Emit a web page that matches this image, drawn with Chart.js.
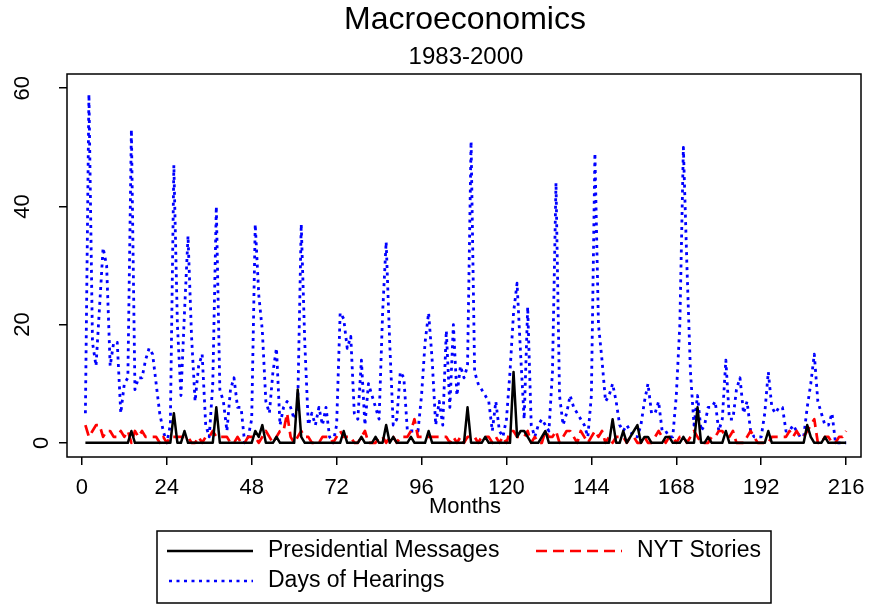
<!DOCTYPE html>
<html>
<head>
<meta charset="utf-8">
<title>Macroeconomics 1983-2000</title>
<script src="https://cdn.jsdelivr.net/npm/chart.js@4.4.1/dist/chart.umd.min.js"></script>
<style>
    html, body { margin: 0; padding: 0; background: #fff; }
    #chart { display: block; }
</style>
</head>
<body>
<canvas id="chart" width="869" height="608"></canvas>
<script>
// monthly counts, month 1 = Jan 1983
var presidential = [
    0, 0, 0, 0, 0, 0, 0, 0, 0, 0, 0, 0, 0, 2, 0, 0, 0, 0, 0, 0, 0, 0, 0, 0,
    0, 5, 0, 0, 2, 0, 0, 0, 0, 0, 0, 0, 0, 6, 0, 0, 0, 0, 0, 0, 0, 0, 0, 0,
    2, 1, 3, 0, 0, 0, 1, 0, 0, 0, 0, 0, 9, 1, 0, 0, 0, 0, 0, 0, 0, 0, 0, 0,
    0, 2, 0, 0, 0, 0, 1, 0, 0, 0, 1, 0, 0, 3, 0, 1, 0, 0, 0, 0, 1, 0, 0, 0,
    0, 2, 0, 0, 0, 0, 0, 0, 0, 0, 0, 0, 6, 0, 0, 0, 0, 1, 0, 0, 0, 0, 0, 0,
    0, 12, 1, 2, 2, 1, 0, 0, 0, 1, 2, 0, 0, 0, 0, 0, 0, 0, 0, 0, 0, 0, 0, 0,
    0, 0, 0, 0, 0, 4, 0, 0, 2, 0, 1, 2, 3, 0, 1, 1, 0, 0, 0, 0, 1, 1, 0, 0,
    0, 1, 0, 0, 0, 6, 0, 0, 1, 0, 0, 0, 0, 2, 0, 0, 0, 0, 0, 0, 0, 0, 0, 0,
    0, 2, 0, 0, 0, 0, 0, 0, 0, 0, 0, 0, 3, 1, 0, 0, 0, 1, 0, 0, 0, 0, 0, 0
];
var nytStories = [
    3, 1, 2, 3, 3, 1, 2, 2, 1, 1, 2, 1, 2, 0, 2, 1, 2, 1, 1, 1, 1, 0, 1, 0,
    1, 1, 1, 1, 1, 1, 0, 0, 1, 0, 1, 1, 2, 1, 1, 1, 1, 0, 0, 1, 0, 0, 1, 1,
    1, 0, 1, 2, 1, 0, 1, 2, 2, 5, 1, 0, 1, 2, 1, 1, 0, 0, 0, 1, 1, 1, 0, 1,
    2, 1, 1, 1, 0, 0, 1, 2, 0, 0, 0, 1, 1, 0, 1, 1, 0, 1, 1, 1, 2, 4, 1, 1,
    1, 1, 1, 1, 1, 1, 1, 0, 1, 0, 1, 0, 1, 1, 1, 0, 1, 1, 1, 0, 1, 0, 1, 0,
    2, 2, 1, 1, 1, 2, 0, 1, 0, 0, 2, 1, 1, 2, 0, 1, 2, 2, 1, 0, 2, 1, 0, 1,
    2, 1, 2, 0, 1, 0, 1, 1, 1, 0, 1, 1, 0, 0, 1, 0, 0, 1, 2, 1, 0, 1, 1, 0,
    1, 1, 0, 1, 2, 1, 0, 0, 0, 1, 1, 2, 2, 1, 1, 2, 0, 0, 0, 1, 2, 1, 0, 0,
    0, 0, 1, 1, 1, 1, 1, 2, 1, 2, 1, 1, 2, 3, 4, 0, 0, 1, 1, 0, 0, 1, 1, 2
];
var hearings = [
    5, 59, 17, 13, 23, 33, 30, 13, 17, 17, 5, 10, 11, 53, 9, 11, 11, 14, 16, 15, 10, 5, 2, 0,
    3, 47, 20, 8, 22, 35, 18, 7, 13, 15, 3, 1, 10, 40, 9, 7, 2, 9, 11, 6, 6, 0, 1, 4,
    37, 25, 19, 7, 5, 12, 16, 3, 6, 7, 6, 4, 6, 37, 17, 3, 5, 3, 6, 3, 6, 1, 0, 3,
    22, 21, 16, 18, 5, 4, 14, 3, 10, 8, 6, 4, 22, 34, 17, 3, 4, 12, 11, 2, 2, 2, 2, 8,
    17, 22, 14, 3, 7, 3, 19, 6, 20, 8, 13, 11, 13, 51, 12, 10, 9, 8, 7, 2, 7, 2, 1, 4,
    12, 22, 27, 15, 4, 23, 3, 1, 3, 4, 3, 2, 12, 44, 8, 3, 5, 8, 6, 5, 4, 3, 1, 8,
    49, 20, 14, 7, 8, 10, 7, 3, 2, 3, 2, 1, 1, 3, 7, 10, 5, 5, 7, 2, 2, 1, 1, 8,
    20, 50, 30, 12, 3, 8, 2, 3, 6, 6, 7, 2, 4, 14, 4, 4, 9, 11, 5, 7, 2, 1, 1, 1,
    5, 12, 6, 5, 6, 6, 2, 2, 3, 2, 1, 1, 6, 10, 15, 7, 5, 3, 3, 5, 0, 0, 0, 0
];
var xTicks = [0, 24, 48, 72, 96, 120, 144, 168, 192, 216];
var yTicks = [0, 20, 40, 60];
var seriesNames = ["Presidential Messages", "NYT Stories", "Days of Hearings"];
var mainTitle = "Macroeconomics";
var subTitle = "1983-2000";
var xTitle = "Months";

var FONT = "'Liberation Sans', Arial, Helvetica, sans-serif";
var DASH_NYT = [11, 6];
var DOT_HEARINGS = [3, 4.5];

function toPoints(values) {
    return values.map(function (v, i) {
        return { x: i + 1, y: v };
    });
}

// box, axis texts and legend, all drawn on top of the plot
var decorations = {
    id: 'decorations',
    afterDraw: function (chart) {
        var ctx = chart.ctx;
        var area = chart.chartArea;
        var xs = chart.scales.x;
        var ys = chart.scales.y;
        ctx.save();

        ctx.strokeStyle = '#000';
        ctx.lineWidth = 1.5;
        ctx.strokeRect(area.left, area.top, area.right - area.left, area.bottom - area.top);

        ctx.fillStyle = '#000';
        ctx.textAlign = 'center';
        ctx.textBaseline = 'middle';

        ctx.font = '22px ' + FONT;
        xTicks.forEach(function (t) {
            ctx.fillText(String(t), xs.getPixelForValue(t), 488);
        });
        yTicks.forEach(function (t) {
            var label = String(t);
            var w = ctx.measureText(label).width;
            ctx.save();
            ctx.translate(61 - 1.55 * w, ys.getPixelForValue(t));
            ctx.rotate(-Math.PI / 2);
            ctx.fillText(label, 0, 0);
            ctx.restore();
        });
        ctx.fillText(xTitle, 465, 507);

        ctx.font = '32px ' + FONT;
        ctx.fillText(mainTitle, 465, 20);
        ctx.font = '24px ' + FONT;
        ctx.fillText(subTitle, 466, 57);

        // legend
        ctx.lineWidth = 1.5;
        ctx.strokeStyle = '#000';
        ctx.strokeRect(157, 531, 614, 72);
        var rows = [
            { x0: 167, x1: 253, tx: 268, y: 551, color: '#000', dash: [], name: seriesNames[0] },
            { x0: 536, x1: 622, tx: 637, y: 551, color: '#ff0000', dash: DASH_NYT, name: seriesNames[1] },
            { x0: 169, x1: 253, tx: 268, y: 581, color: '#0000ff', dash: DOT_HEARINGS, name: seriesNames[2] }
        ];
        ctx.font = '23px ' + FONT;
        ctx.textAlign = 'left';
        rows.forEach(function (r) {
            ctx.beginPath();
            ctx.setLineDash(r.dash);
            ctx.lineWidth = 2.7;
            ctx.strokeStyle = r.color;
            ctx.moveTo(r.x0, r.y);
            ctx.lineTo(r.x1, r.y);
            ctx.stroke();
            ctx.setLineDash([]);
            ctx.fillText(r.name, r.tx, r.y);
        });
        ctx.restore();
    }
};

new Chart(document.getElementById('chart'), {
    type: 'line',
    data: {
        datasets: [{
            label: seriesNames[0],
            data: toPoints(presidential),
            borderColor: '#000',
            borderWidth: 2.5,
            order: 0
        }, {
            label: seriesNames[1],
            data: toPoints(nytStories),
            borderColor: '#ff0000',
            borderWidth: 2.7,
            borderDash: DASH_NYT,
            order: 1
        }, {
            label: seriesNames[2],
            data: toPoints(hearings),
            borderColor: '#0000ff',
            borderWidth: 2.8,
            borderDash: DOT_HEARINGS,
            order: 2
        }]
    },
    options: {
        responsive: false,
        animation: false,
        devicePixelRatio: 1,
        layout: { padding: { top: 74, right: 8, left: 0, bottom: 0 } },
        elements: {
            point: { radius: 0 },
            line: { tension: 0, fill: false, borderJoinStyle: 'round' }
        },
        plugins: {
            legend: { display: false },
            title: { display: false },
            tooltip: { enabled: false }
        },
        scales: {
            x: {
                type: 'linear',
                min: -4.2,
                max: 220.2,
                afterBuildTicks: function (scale) {
                    scale.ticks = xTicks.map(function (v) { return { value: v }; });
                },
                afterFit: function (scale) { scale.height = 151; },
                ticks: { display: false },
                border: { display: false },
                grid: {
                    drawOnChartArea: false,
                    drawTicks: true,
                    tickLength: 8,
                    color: '#000',
                    lineWidth: 1.5
                }
            },
            y: {
                type: 'linear',
                min: -2.4,
                max: 62.4,
                afterBuildTicks: function (scale) {
                    scale.ticks = yTicks.map(function (v) { return { value: v }; });
                },
                afterFit: function (scale) { scale.width = 67; },
                ticks: { display: false },
                border: { display: false },
                grid: {
                    drawOnChartArea: false,
                    drawTicks: true,
                    tickLength: 8,
                    color: '#000',
                    lineWidth: 1.5
                }
            }
        }
    },
    plugins: [decorations]
});
</script>
</body>
</html>
